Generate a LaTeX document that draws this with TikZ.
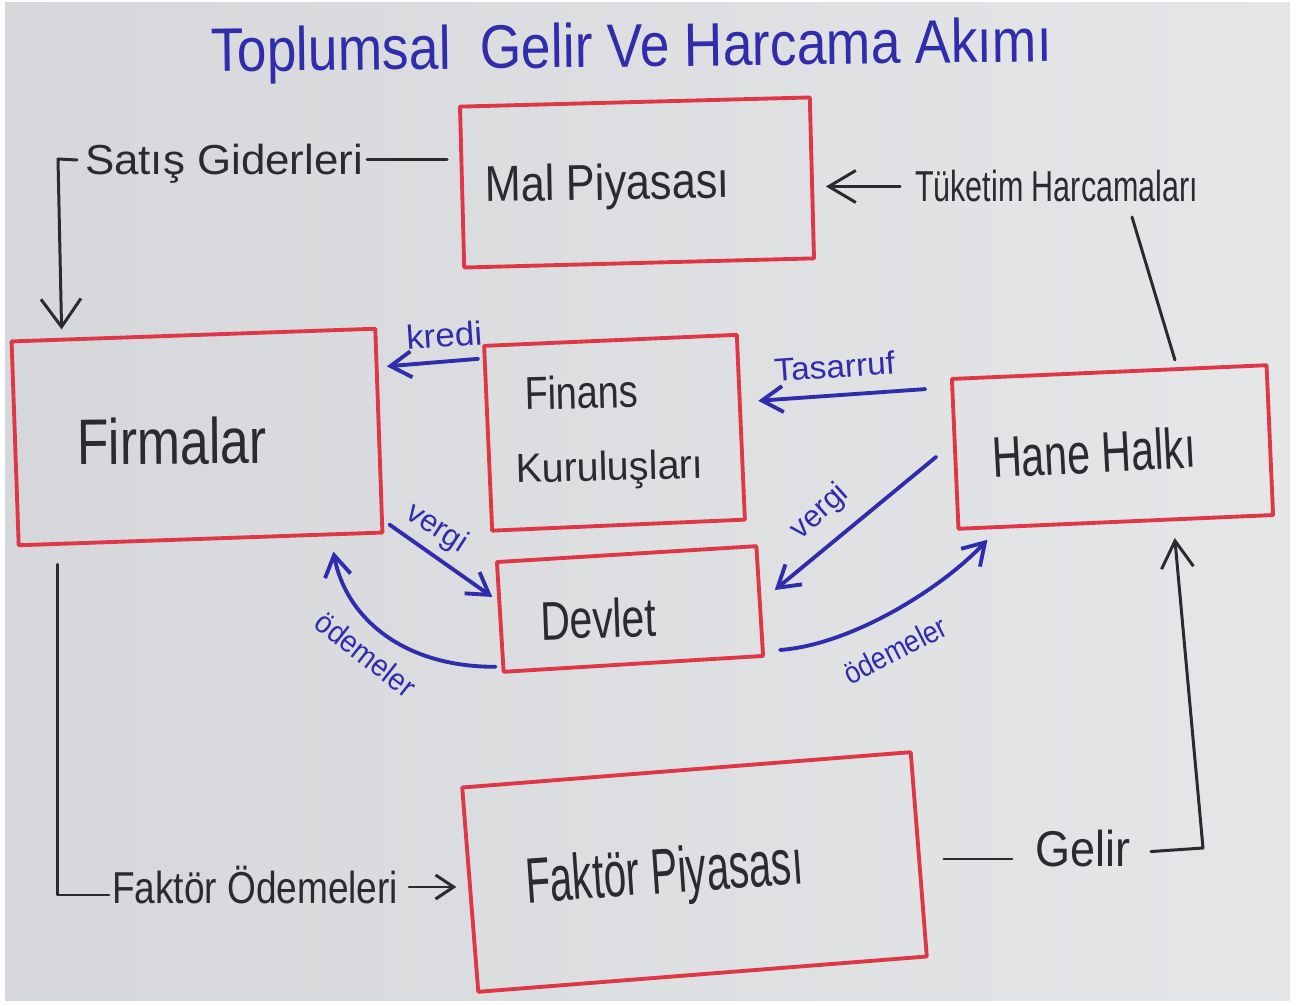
\documentclass[tikz,border=0pt]{standalone}
\usepackage{fontspec}
\setmainfont{Liberation Sans}
\usetikzlibrary{arrows.meta,calc}
\newdimen\unitpx \unitpx=0.02cm
\newcommand{\hw}[3]{\resizebox{#1\unitpx}{#2\unitpx}{\raisebox{0pt}[0.716em][0pt]{#3}}}
\definecolor{paperL}{RGB}{214,215,218}
\definecolor{paperR}{RGB}{229,230,232}
\definecolor{ink}{RGB}{42,42,48}
\definecolor{pen}{RGB}{48,44,172}
\definecolor{marker}{RGB}{222,56,72}
\begin{document}
\begin{tikzpicture}[x={(0.02cm,0)}, y={(0,-0.02cm)},
  box/.style={draw=marker, line width=2.2pt, line join=round, inner sep=0pt, outer sep=0pt},
  txt/.style={inner sep=0pt, outer sep=0pt, anchor=south west, text=ink},
  btxt/.style={inner sep=0pt, outer sep=0pt, text=pen},
  kline/.style={draw=ink, line width=1.7pt, line cap=round, line join=round},
  bline/.style={draw=pen, line width=2.2pt, line cap=round, line join=round},
  bigbarb/.style={-{Straight Barb[length=0.56cm,width=0.8cm]}},
  midbarb/.style={-{Straight Barb[length=0.54cm,width=0.64cm]}},
  smallbarb/.style={-{Straight Barb[length=0.36cm,width=0.48cm]}},
  bluebarb/.style={-{Straight Barb[length=0.42cm,width=0.52cm]}}
]
\useasboundingbox (0,0) rectangle (1299,1006);
\fill[white] (0,0) rectangle (1299,1006);
\shade[left color=paperL, right color=paperR] (5,3) rectangle (1290,1000);

% boxes
\node[box, rotate=1.5, minimum width=7.0cm, minimum height=3.22cm] (mal) at (637,182.5) {};
\node[box, rotate=2, minimum width=7.28cm, minimum height=4.08cm] (firm) at (197,437) {};
\node[box, rotate=2.5, minimum width=5.06cm, minimum height=3.7cm] (fin) at (614.5,432.75) {};
\node[box, rotate=2.5, minimum width=6.3cm, minimum height=3.0cm] (hane) at (1112.5,447) {};
\node[box, rotate=3.5, minimum width=5.2cm, minimum height=2.2cm] (dev) at (630,609) {};
\node[box, rotate=4.5, minimum width=9.0cm, minimum height=4.1cm] (fak) at (694.5,872) {};

% texts
\node[txt, text=pen, rotate=0.7] (title) at (211,72) {\hw{841}{44}{Toplumsal\ \ Gelir Ve Harcama Akımı}};
\node[txt, rotate=1] (malT) at (485,202) {\hw{245}{36}{Mal Piyasası}};
\node[txt] (satis) at (85,175) {\hw{278}{30}{Satış Giderleri}};
\node[txt] (tuk) at (915,202) {\hw{283}{31}{Tüketim Harcamaları}};
\node[txt, rotate=0.5] (firmT) at (77,465) {\hw{190}{46}{Firmalar}};
\node[txt, rotate=1.5] (finT) at (525,410) {\hw{114}{33}{Finans}};
\node[txt, rotate=1.5] (kurT) at (516,483) {\hw{188}{29}{Kuruluşları}};
\node[txt, rotate=3] (haneT) at (993,478) {\hw{204}{41}{Hane Halkı}};
\node[txt, rotate=2] (devT) at (541,640) {\hw{116}{39}{Devlet}};
\node[txt, rotate=4] (fakT) at (527,903) {\hw{278}{46}{Faktör Piyasası}};
\node[txt] (fo) at (112,903) {\hw{286}{32}{Faktör Ödemeleri}};
\node[txt] (gel) at (1035,867) {\hw{95}{36}{Gelir}};

% blue labels
\node[btxt, anchor=south west, rotate=4] (kredi) at (407,350) {\hw{76}{24}{kredi}};
\node[btxt, anchor=south west, rotate=4] (tas) at (775,382) {\hw{121}{23}{Tasarruf}};
\node[btxt, rotate=-33] (vergiL) at (438,526) {\hw{66}{22}{vergi}};
\node[btxt, rotate=-38] (odL) at (366,654) {\hw{118}{22}{ödemeler}};
\node[btxt, rotate=42] (vergiR) at (818,510) {\hw{66}{22}{vergi}};
\node[btxt, rotate=27] (odR) at (895,650) {\hw{112}{22}{ödemeler}};

% black connectors
\draw[kline, shorten <=0.3cm, shorten >=0.08cm] (mal.west |- satis.east) -- (satis.east);
\coordinate (sg) at (58,159);
\draw[kline, bigbarb] ($(satis.west)+(-8,0)$) -- (sg) -- ($(firm.north west)+(50,-12)$);

\draw[kline, midbarb, shorten <=0.3cm, shorten >=0.28cm] (tuk.west) -- (mal.east |- tuk.west);
\draw[kline] ($(tuk.south west)+(217,15)$) -- ($(hane.north west)+(223,-19)$);

\draw[kline] ($(firm.south west)+(39,19)$) |- ($(fo.west)+(-3,8)$);
\draw[kline, smallbarb, shorten <=0.22cm, shorten >=0.28cm] (fo.east) -- (fak.west |- fo.east);

\draw[kline, shorten <=0.5cm, shorten >=0.46cm] (fak.east |- 0,859) -- (gel.west |- 0,859);
\coordinate (gc) at (1203,848);
\draw[kline, midbarb, shorten <=0.42cm] (gel.east |- 0,853) -- (gc) -- ($(hane.south)+(59,16)$);

% blue connectors
\draw[bline, bluebarb, shorten <=0.2cm, shorten >=0.16cm] (fin.west |- 0,358) -- (firm.east |- 0,367);
\draw[bline, bluebarb, shorten <=0.6cm, shorten >=0.35cm] (hane.west |- 0,387) -- (fin.east |- 0,402);
\draw[bline, bluebarb] ($(firm.south east)+(7,-8)$) -- ($(dev.west)+(-8,-20)$);
\draw[bline, bluebarb] ($(dev.south west)+(-8,-5)$) .. controls (400,667) and (345,615) .. ($(firm.south east)+(-49,19)$);
\draw[bline, bluebarb] ($(hane.west)+(-19,3)$) -- ($(dev.east)+(15,-11)$);
\draw[bline, bluebarb] ($(dev.south east)+(17,-6)$) .. controls (850,645) and (940,590) .. ($(hane.south west)+(29,11)$);
\end{tikzpicture}
\end{document}
